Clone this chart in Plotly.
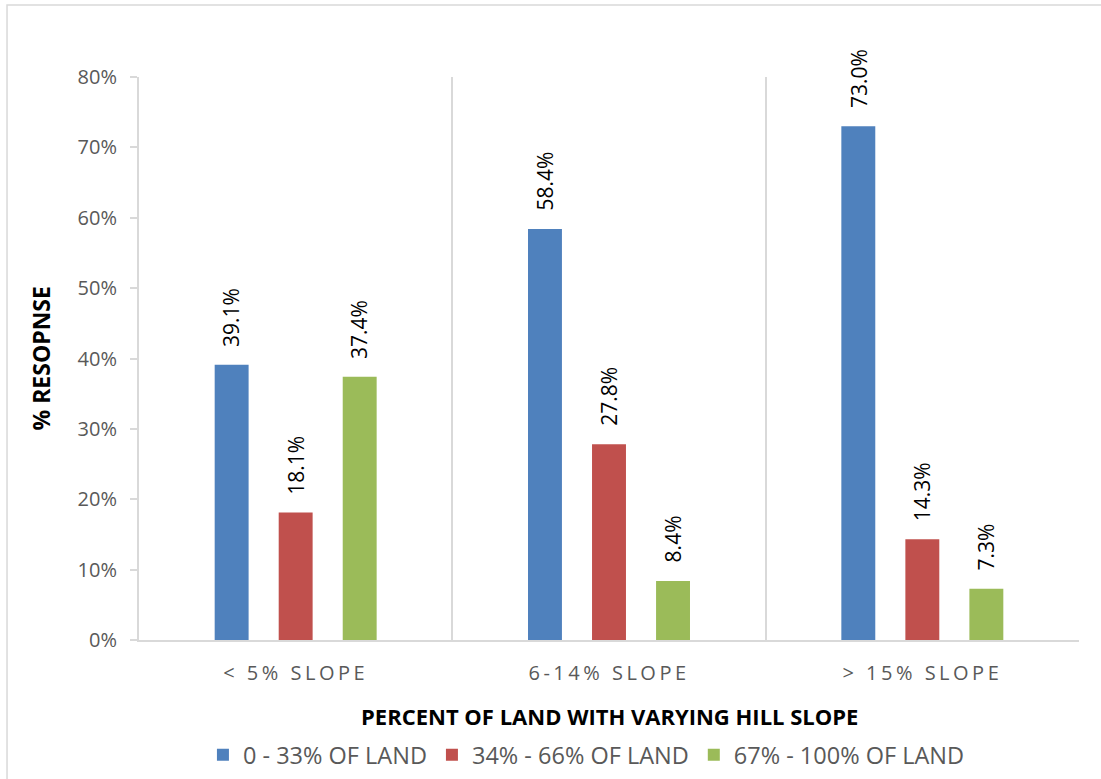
import plotly.graph_objects as go

categories = ["< 5% SLOPE", "6-14% SLOPE", "> 15% SLOPE"]
series_names = ["0 - 33% OF LAND", "34% - 66% OF LAND", "67% - 100% OF LAND"]
low_land = [0.391, 0.584, 0.730]
mid_land = [0.181, 0.278, 0.143]
high_land = [0.374, 0.084, 0.073]
colors = ["#4F81BD", "#C0504D", "#9BBB59"]
label_shift = [-64, 0, 64]

fig = go.Figure()
for name, vals, col, shift in zip(series_names, [low_land, mid_land, high_land], colors, label_shift):
    fig.add_trace(go.Bar(
        x=categories, y=vals, name=name, marker=dict(color=col, line=dict(width=0)),
    ))
    for c, v in zip(categories, vals):
        fig.add_annotation(
            x=c, y=v, xref="x", yref="y", text=f"{v*100:.1f}%", showarrow=False,
            textangle=-90, xanchor="center", yanchor="bottom", xshift=shift, yshift=16,
            font=dict(family="Open Sans", size=21, color="#000000"),
        )

fig.update_layout(
    width=1101, height=779,
    margin=dict(l=139, r=22, t=77, b=139),
    paper_bgcolor="white", plot_bgcolor="white",
    barmode="group", bargap=0.387, bargroupgap=0.47,
    font=dict(family="Open Sans", color="#595959", size=18),
    legend=dict(orientation="h", x=0.476, xanchor="center", yref="container", y=0.031, yanchor="middle",
                font=dict(size=23.5, color="#595959"), itemwidth=30, traceorder="normal"),
    xaxis=dict(
        tickson="boundaries", showgrid=True, gridcolor="#d9d9d9", gridwidth=1.5,
        showline=True, linecolor="#d9d9d9", linewidth=2, ticks="",
        tickfont=dict(size=20, color="#595959"), ticklabelstandoff=14,
        automargin=False,
    ),
    yaxis=dict(
        range=[0, 0.8], dtick=0.1, tickformat=".0%", showgrid=False,
        showline=True, linecolor="#d9d9d9", linewidth=2,
        ticks="outside", ticklen=7, tickcolor="#d9d9d9", tickwidth=1.5,
        tickfont=dict(size=20, color="#595959"), ticklabelstandoff=9,
        zeroline=False, automargin=False,
    ),
)

fig.add_annotation(text="<b>PERCENT OF LAND WITH VARYING HILL SLOPE</b>", xref="paper", yref="paper",
                   x=0.5, y=-0.135, xanchor="center", yanchor="middle", showarrow=False,
                   font=dict(family="Open Sans", size=22, color="#000000"))
fig.add_annotation(text="<b>% RESOPNSE</b>", xref="paper", yref="paper",
                   x=-0.1053, y=0.5, xanchor="center", yanchor="middle", showarrow=False, textangle=-90,
                   font=dict(family="Open Sans", size=23, color="#000000"))

fig.add_shape(type="rect", xref="paper", yref="paper",
              x0=-0.1404, x1=1.2, y0=-0.4, y1=1.128,
              line=dict(color="#d9d9d9", width=1.5), fillcolor="rgba(0,0,0,0)", layer="below")

post = "document.querySelectorAll('.xtick text').forEach(function(t){t.style.letterSpacing='3.5px';});"
fig.write_html("out.html", post_script=post)
